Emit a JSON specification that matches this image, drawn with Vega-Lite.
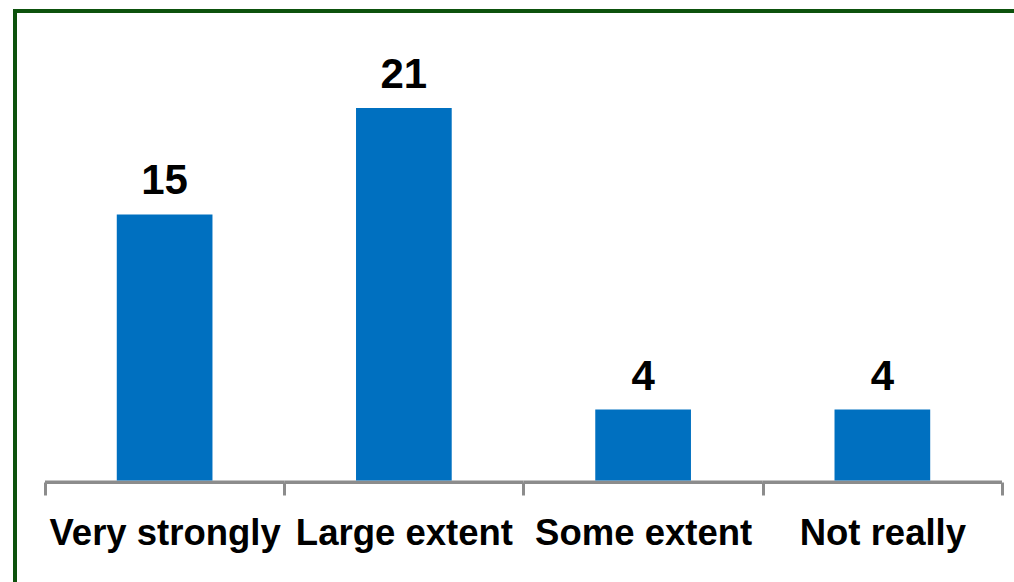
{
  "$schema": "https://vega.github.io/schema/vega-lite/v6.json",
  "width": 999,
  "height": 571,
  "autosize": {"type": "none"},
  "padding": {"left": 15, "top": 11, "right": 0, "bottom": 0},
  "background": "white",
  "config": {
    "view": {"stroke": "#0d520d", "strokeWidth": 4, "strokeDash": [999, 1570, 571]}
  },
  "data": {
    "values": [
      {"response": "Very strongly", "count": 15},
      {"response": "Large extent", "count": 21},
      {"response": "Some extent", "count": 4},
      {"response": "Not really", "count": 4}
    ]
  },
  "encoding": {
    "x": {
      "field": "response",
      "type": "nominal",
      "sort": null,
      "scale": {"paddingInner": 0, "paddingOuter": 0.0878, "align": 0.714},
      "axis": {
        "title": null,
        "orient": "bottom",
        "offset": -100,
        "domain": false,
        "grid": false,
        "tickBand": "extent",
        "tickSize": 13,
        "tickWidth": 3,
        "tickColor": "#8c8c8c",
        "labelAngle": 0,
        "labelFont": "Liberation Sans",
        "labelFontWeight": "bold",
        "labelFontSize": 36.5,
        "labelColor": "black",
        "labelPadding": 49,
        "labelBaseline": "alphabetic",
        "labelOverlap": false,
        "labelLimit": 400
      }
    },
    "y": {
      "field": "count",
      "type": "quantitative",
      "scale": {"domain": [-5.72, 26.47], "nice": false, "zero": false},
      "axis": null
    }
  },
  "layer": [
    {
      "mark": {"type": "bar", "color": "#8c8c8c"},
      "encoding": {
        "y": {"datum": 0, "type": "quantitative"},
        "y2": {"datum": -0.2}
      }
    },
    {
      "mark": {"type": "bar", "color": "#0070c0", "width": {"band": 0.4}},
      "encoding": {
        "y2": {"datum": 0}
      }
    },
    {
      "mark": {
        "type": "text",
        "baseline": "alphabetic",
        "dy": -20,
        "font": "Liberation Sans",
        "fontWeight": "bold",
        "fontSize": 42,
        "color": "black"
      },
      "encoding": {
        "text": {"field": "count", "type": "quantitative"}
      }
    }
  ]
}
